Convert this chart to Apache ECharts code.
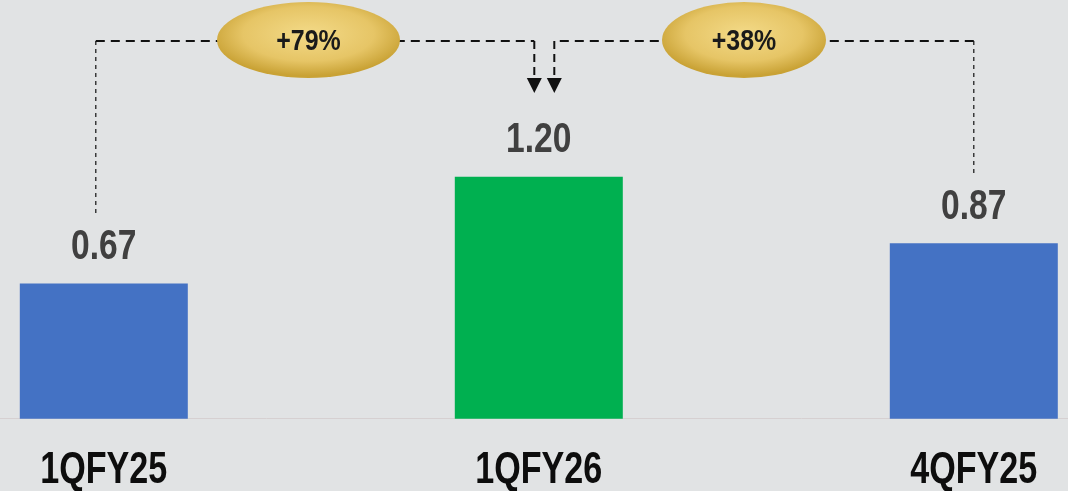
<!DOCTYPE html>
<html>
<head>
<meta charset="utf-8">
<script src="https://cdn.jsdelivr.net/npm/echarts@6/dist/echarts.min.js"></script>
<style>
  html, body { margin: 0; padding: 0; background: #e1e3e4; }
  #main { width: 1068px; height: 491px; }
</style>
</head>
<body>
<div id="main"></div>
<script>
// data
const categories = ["1QFY25", "1QFY26", "4QFY25"];
const values = [0.67, 1.20, 0.87];
const barColors = ["#4472c4", "#00b050", "#4472c4"];
// growth callouts: from bar -> to bar
const growthFrom = [0, 2];
const growthTo = [1, 1];
const growthLabels = ["+79%", "+38%"];

// narrow bold look: Arial metrics squeezed horizontally
const FONT = "'Liberation Sans', Arial, sans-serif";

(function () {
    const myChart = echarts.init(document.getElementById("main"));
    const option = {
        backgroundColor: "#e1e3e4",
        animation: false,
        grid: {
            // wide categories so that the bars sit far apart
            left: -113.7,
            right: -123.3,
            top: 15.4,
            bottom: 72.3,
            containLabel: false,
            outerBoundsMode: "none"
        },
        xAxis: {
            type: "category",
            data: categories,
            axisTick: { show: false },
            axisLine: { lineStyle: { color: "#d6d0d1", width: 1 } },
            axisLabel: { show: false }
        },
        yAxis: {
            type: "value",
            min: 0,
            max: 2,
            show: false
        },
        series: [{
            type: "bar",
            barWidth: 168,
            data: values.map((v, i) => ({ value: v, itemStyle: { color: barColors[i] } }))
        }]
    };
    myChart.setOption(option);

    const px = i => myChart.convertToPixel({ seriesIndex: 0 }, [i, values[i]]);
    const elements = [];

    // value and category labels (narrowed text)
    values.forEach((v, i) => {
        const p = px(i);
        elements.push({
            type: "text",
            x: p[0], y: p[1] - 36, scaleX: 0.8,
            style: {
                text: v.toFixed(2), fill: "#404040",
                font: "bold 42px " + FONT, align: "center", verticalAlign: "middle"
            }
        });
        elements.push({
            type: "text",
            x: p[0], y: 471, scaleX: 0.775,
            style: {
                text: categories[i], fill: "#0d0d0d",
                font: "bold 44px " + FONT, align: "center", verticalAlign: "middle"
            }
        });
    });

    // connectors, positioned from the bars
    const lineY = 41;
    const sideOffset = [-8, 0, 0];
    const arrowOffset = [-4.5, 15.5];
    const ellipseX = [308.5, 744];
    const ellipseRx = [91.5, 82];
    growthFrom.forEach((from, k) => {
        const a = px(from);
        const b = px(growthTo[k]);
        const xa = a[0] + sideOffset[from];
        const xb = b[0] + arrowOffset[k];
        // vertical line above source bar
        elements.push({
            type: "line",
            shape: { x1: xa, y1: lineY, x2: xa, y2: a[1] - 70 },
            style: { stroke: "#111", lineWidth: 1.2, lineDash: [4, 4] }
        });
        // horizontal line
        elements.push({
            type: "line",
            shape: { x1: xa, y1: lineY, x2: xb, y2: lineY },
            style: { stroke: "#111", lineWidth: 2, lineDash: [9, 6] }
        });
        // arrow shaft
        elements.push({
            type: "line",
            shape: { x1: xb, y1: lineY, x2: xb, y2: 78 },
            style: { stroke: "#111", lineWidth: 2, lineDash: [8, 5] }
        });
        // arrow head
        elements.push({
            type: "polygon",
            shape: { points: [[xb - 7.5, 78], [xb + 7.5, 78], [xb, 93]] },
            style: { fill: "#111" }
        });
        // gold ellipse: a circle stretched sideways so the gradient stretches too
        elements.push({
            type: "circle",
            z: 10,
            x: ellipseX[k], y: 40, scaleX: ellipseRx[k] / 38,
            shape: { cx: 0, cy: 0, r: 38 },
            style: {
                fill: {
                    type: "radial", x: 0.5, y: 0.42, r: 0.55,
                    colorStops: [
                        { offset: 0, color: "#f3da88" },
                        { offset: 0.65, color: "#e6c566" },
                        { offset: 1, color: "#c9a235" }
                    ]
                }
            }
        });
        elements.push({
            type: "text",
            z: 11,
            x: ellipseX[k], y: 42, scaleX: 0.86,
            style: {
                text: growthLabels[k], fill: "#1a1a1a",
                font: "bold 29px " + FONT, align: "center", verticalAlign: "middle"
            }
        });
    });
    myChart.setOption({ graphic: { elements: elements } });

    window.addEventListener("resize", function () {
        myChart.resize();
    });
})();
</script>
</body>
</html>
